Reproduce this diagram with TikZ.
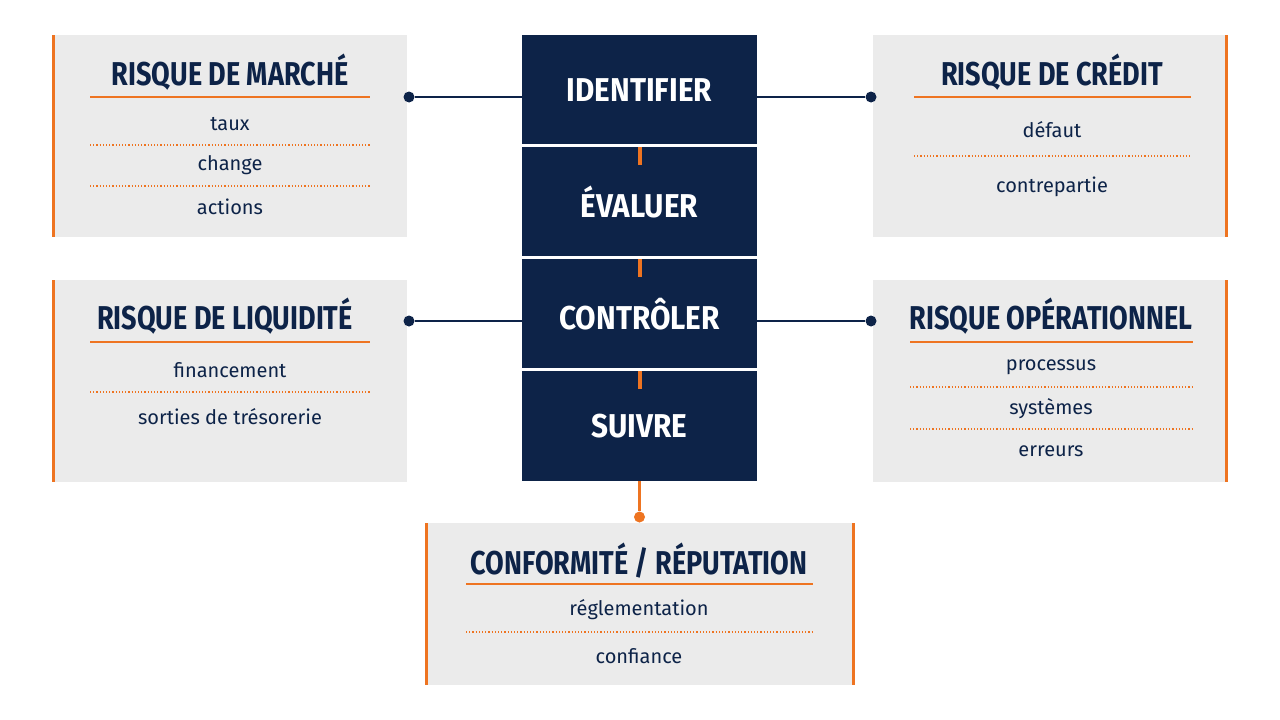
\documentclass[tikz,border=0pt]{standalone}
\usepackage{fontspec}
\setmainfont{Fira Sans}
\newfontfamily\headf{Fira Sans}[UprightFont=* Bold]
\definecolor{navy}{HTML}{0D2348}
\definecolor{org}{HTML}{EE7421}
\definecolor{boxg}{HTML}{EBEBEB}
\begin{document}
\begin{tikzpicture}[x=1pt,y=-1pt,
  stage/.style={fill=navy,text=white,minimum width=235pt,minimum height=110pt,inner sep=0pt,font=\headf\fontsize{33}{33}\selectfont\addfontfeatures{FakeStretch=0.9}},
  box/.style={fill=boxg,draw=none},
  ttl/.style={text=navy,font=\headf\fontsize{33}{33}\selectfont\addfontfeatures{FakeStretch=0.82}},
  itm/.style={text=navy,font=\fontsize{20}{20}\selectfont},
  rule/.style={org,line width=1.3pt},
  dots/.style={org,line width=1.2pt,dotted},
  bar/.style={org,line width=3pt},
  conn/.style={navy,line width=2pt},
  dot/.style={circle,fill=navy,minimum size=11pt,inner sep=0pt},
  odot/.style={circle,fill=org,minimum size=11pt,inner sep=0pt}]
\useasboundingbox (0,0) rectangle (1280,720);
\fill[white] (0,0) rectangle (1280,720);
% center
\node[stage] (s1) at (639.5,90) {IDENTIFIER};
\node[stage] (s2) at (639.5,202) {ÉVALUER};
\node[stage] (s3) at (639.5,314) {CONTRÔLER};
\node[stage] (s4) at (639.5,426) {SUIVRE};
\foreach \y in {147,259,371}{\draw[org,line width=4pt] (639.5,\y) -- (639.5,\y+18);}
% market
\fill[box] (52,35) rectangle (407,237); \draw[bar] (53.5,35) -- (53.5,237);
\node[ttl] (t1) at (230,72) {RISQUE DE MARCHÉ};
\draw[rule] (90,97) -- (370,97);
\node[itm] (m1) at (230,124) {taux};
\draw[dots] (90,145) -- (370,145);
\node[itm] (m2) at (230,165) {change};
\draw[dots] (90,186) -- (370,186);
\node[itm] (m3) at (230,207) {actions};
% credit
\fill[box] (873,35) rectangle (1228,237); \draw[bar] (1226.5,35) -- (1226.5,237);
\node[ttl] (t2) at (1052,72) {RISQUE DE CRÉDIT};
\draw[rule] (914,97) -- (1191,97);
\node[itm] (c1) at (1052,130) {défaut};
\draw[dots] (914,156) -- (1191,156);
\node[itm] (c2) at (1052,187) {contrepartie};
% liquidity
\fill[box] (52,280) rectangle (407,482); \draw[bar] (53.5,280) -- (53.5,482);
\node[ttl] (t3) at (225,316) {RISQUE DE LIQUIDITÉ};
\draw[rule] (90,342) -- (370,342);
\node[itm] (l1) at (230,370) {financement};
\draw[dots] (90,392) -- (370,392);
\node[itm] (l2) at (230,417) {sorties de trésorerie};
% operational
\fill[box] (873,280) rectangle (1228,482); \draw[bar] (1226.5,280) -- (1226.5,482);
\node[ttl] (t4) at (1051,316) {RISQUE OPÉRATIONNEL};
\draw[rule] (910,342) -- (1193,342);
\node[itm] (o1) at (1051,367) {processus};
\draw[dots] (910,387) -- (1193,387);
\node[itm] (o2) at (1051,409) {systèmes};
\draw[dots] (910,429) -- (1193,429);
\node[itm] (o3) at (1051,451) {erreurs};
% compliance
\fill[box] (425,523) rectangle (855,685);
\draw[bar] (426.5,523) -- (426.5,685); \draw[bar] (853.5,523) -- (853.5,685);
\node[ttl] (t5) at (639,561) {CONFORMITÉ / RÉPUTATION};
\draw[rule] (466,584) -- (813,584);
\node[itm] (k1) at (639,610) {réglementation};
\draw[dots] (466,632) -- (813,632);
\node[itm] (k2) at (639,656) {confiance};
% connectors
\node[dot] (d1) at (409,97) {};
\node[dot] (d2) at (871,97) {};
\node[dot] (d3) at (409,321) {};
\node[dot] (d4) at (871,321) {};
\node[odot] (d5) at (639.5,517) {};
\draw[conn] (d1) -- (d1 -| s1.west);
\draw[conn] (d2) -- (d2 -| s1.east);
\draw[conn] (d3) -- (d3 -| s3.west);
\draw[conn] (d4) -- (d4 -| s3.east);
\draw[org,line width=2.5pt] (s4.south) -- (d5);
\draw[white,line width=2pt] (s1.south west) -- (s1.south east) (s2.south west) -- (s2.south east) (s3.south west) -- (s3.south east);
\end{tikzpicture}
\end{document}
